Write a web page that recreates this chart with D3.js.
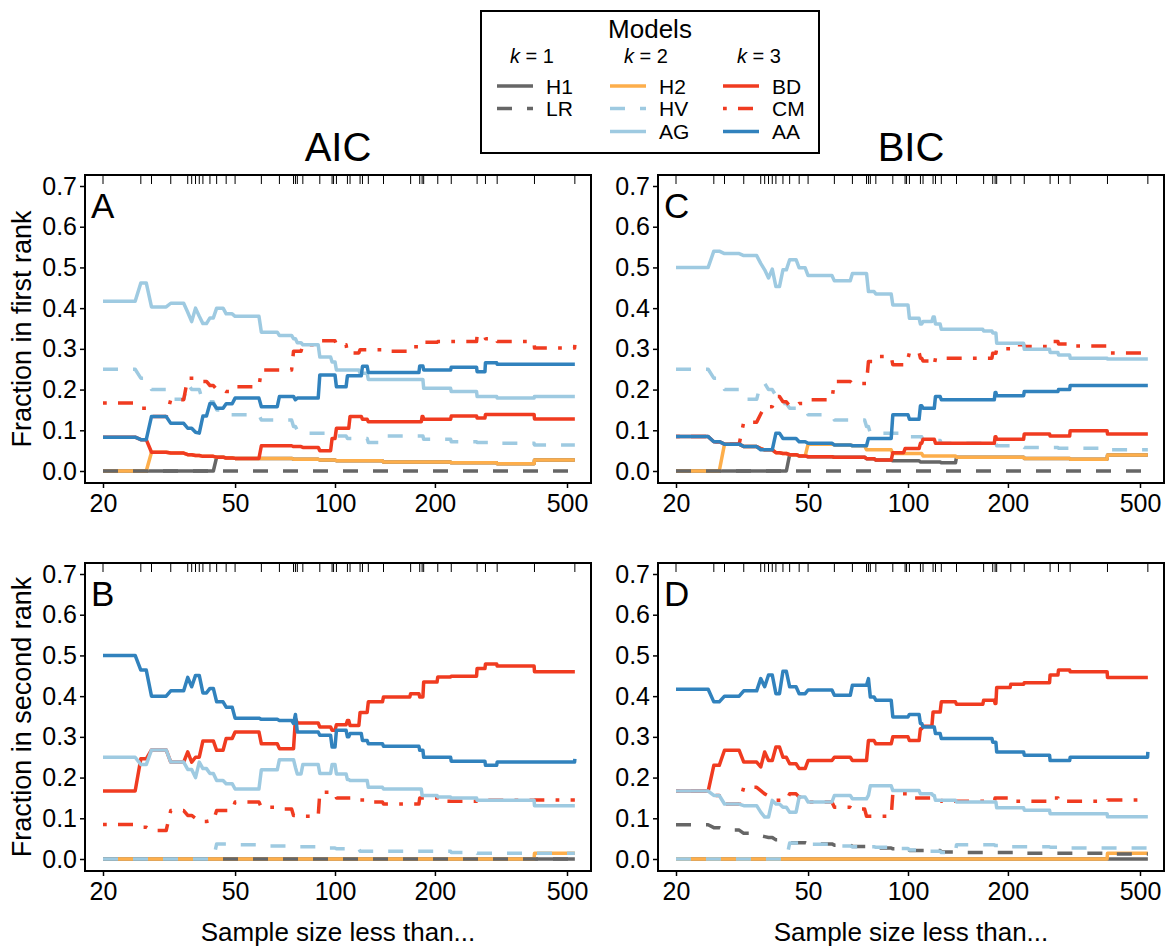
<!DOCTYPE html>
<html>
<head>
<meta charset="utf-8">
<script src="https://cdn.jsdelivr.net/npm/d3@7"></script>
<style>
  body { margin: 0; background: #fff; }
</style>
</head>
<body>
<div id="chart"></div>
<script>
// sample sizes in the data set (rug along the top of each panel)
var sampleSizes = [20, 26, 28, 32, 36, 37, 38, 39, 40, 42, 44, 47, 50, 60, 68, 75, 76, 77, 80, 90,
  98, 99, 101, 109, 111, 119, 121, 126, 140, 169, 180, 183, 185, 204, 224, 268, 284, 308, 399, 528];
var xTicks = [20, 50, 100, 200, 500];
var yTicks = [0, 0.1, 0.2, 0.3, 0.4, 0.5, 0.6, 0.7];

// each series: [sample size, fraction from that size on]
var aicFirst = {
  H1: [[20,0],[44,0.034],[47,0.032],[50,0.031],[75,0.029],[90,0.027],[101,0.025],[140,0.022],[224,0.02],[308,0.018],[399,0.027]],
  LR: [[20,0]],
  H2: [[20,0],[28,0.046],[32,0.044],[36,0.04],[38,0.038],[40,0.036],[44,0.034],[47,0.032],[50,0.031],[75,0.029],[90,0.027],[101,0.025],[140,0.022],[224,0.02],[308,0.018],[399,0.027]],
  HV: [[20,0.25],[26,0.228],[28,0.2],[32,0.176],[36,0.215],[37,0.2],[40,0.17],[44,0.15],[47,0.138],[60,0.125],[75,0.109],[77,0.1],[80,0.093],[101,0.086],[109,0.08],[126,0.07],[140,0.086],[185,0.078],[224,0.072],[268,0.07],[308,0.068],[399,0.064]],
  AG: [[20,0.417],[26,0.462],[28,0.403],[32,0.412],[36,0.39],[37,0.367],[38,0.40],[39,0.38],[40,0.362],[42,0.376],[44,0.40],[47,0.386],[50,0.38],[60,0.341],[68,0.333],[75,0.325],[77,0.315],[80,0.31],[90,0.28],[98,0.268],[101,0.248],[119,0.24],[126,0.225],[185,0.203],[224,0.195],[268,0.183],[308,0.179],[399,0.183]],
  BD: [[20,0.083],[26,0.077],[28,0.046],[32,0.044],[36,0.04],[38,0.038],[40,0.036],[44,0.034],[47,0.032],[50,0.031],[60,0.062],[75,0.06],[80,0.058],[90,0.05],[98,0.08],[101,0.105],[111,0.134],[121,0.127],[126,0.121],[183,0.134],[185,0.127],[224,0.135],[268,0.13],[284,0.139],[399,0.128]],
  CM: [[20,0.167],[26,0.154],[28,0.134],[32,0.175],[36,0.228],[40,0.22],[42,0.21],[44,0.2],[47,0.195],[50,0.207],[60,0.248],[75,0.294],[80,0.31],[90,0.32],[101,0.31],[109,0.29],[119,0.298],[140,0.294],[169,0.305],[183,0.316],[204,0.318],[268,0.333],[284,0.325],[308,0.318],[399,0.302],[528,0.31]],
  AA: [[20,0.083],[26,0.077],[28,0.134],[32,0.117],[36,0.105],[38,0.095],[39,0.093],[40,0.135],[42,0.166],[44,0.154],[47,0.165],[50,0.179],[60,0.158],[68,0.183],[76,0.175],[77,0.179],[90,0.236],[101,0.207],[109,0.234],[121,0.257],[126,0.242],[180,0.258],[185,0.248],[224,0.255],[268,0.244],[284,0.266],[308,0.262]]
};

var aicSecond = {
  H1: [[20,0]],
  LR: [[20,0]],
  H2: [[20,0],[399,0.014]],
  HV: [[20,0],[44,0.037],[50,0.035],[60,0.032],[75,0.03],[90,0.027],[101,0.025],[119,0.019],[224,0.016],[268,0.014]],
  AG: [[20,0.25],[26,0.232],[28,0.268],[32,0.238],[36,0.22],[38,0.2],[39,0.238],[40,0.222],[42,0.21],[44,0.193],[47,0.185],[50,0.172],[60,0.219],[68,0.244],[76,0.225],[77,0.209],[80,0.232],[90,0.21],[98,0.232],[101,0.209],[109,0.195],[111,0.193],[126,0.176],[140,0.172],[183,0.156],[204,0.152],[224,0.15],[268,0.144],[399,0.131]],
  BD: [[20,0.167],[26,0.246],[28,0.268],[32,0.238],[36,0.263],[37,0.238],[38,0.25],[40,0.29],[44,0.267],[47,0.296],[50,0.312],[60,0.283],[68,0.271],[76,0.345],[77,0.334],[90,0.324],[98,0.316],[101,0.33],[109,0.34],[111,0.328],[119,0.36],[126,0.386],[140,0.398],[169,0.406],[180,0.398],[185,0.435],[204,0.447],[224,0.449],[268,0.468],[284,0.479],[308,0.474],[399,0.46]],
  CM: [[20,0.085],[26,0.078],[28,0.07],[32,0.119],[36,0.107],[38,0.1],[40,0.092],[42,0.094],[44,0.119],[50,0.14],[60,0.127],[68,0.123],[75,0.107],[80,0.105],[90,0.164],[101,0.15],[119,0.145],[126,0.14],[140,0.135],[180,0.15],[204,0.142],[268,0.144],[399,0.145]],
  AA: [[20,0.5],[26,0.464],[28,0.40],[32,0.413],[36,0.446],[37,0.423],[38,0.451],[40,0.408],[42,0.419],[44,0.386],[47,0.373],[50,0.346],[60,0.343],[68,0.34],[75,0.333],[76,0.355],[77,0.312],[90,0.304],[98,0.275],[101,0.316],[109,0.30],[111,0.308],[121,0.291],[126,0.283],[140,0.277],[180,0.267],[185,0.25],[224,0.24],[284,0.23],[308,0.238],[528,0.246]]
};

var bicFirst = {
  H1: [[20,0],[44,0.04],[47,0.037],[50,0.035],[60,0.034],[75,0.03],[80,0.027],[90,0.025],[109,0.022],[126,0.02],[140,0.034],[224,0.031],[308,0.029],[399,0.039]],
  LR: [[20,0]],
  H2: [[20,0],[28,0.066],[32,0.06],[36,0.055],[37,0.052],[40,0.045],[42,0.043],[44,0.04],[47,0.037],[50,0.066],[60,0.064],[68,0.062],[75,0.052],[90,0.043],[111,0.037],[140,0.034],[224,0.031],[308,0.029],[399,0.039]],
  HV: [[20,0.25],[26,0.228],[28,0.2],[32,0.176],[36,0.215],[38,0.2],[40,0.185],[42,0.166],[44,0.154],[50,0.138],[60,0.125],[75,0.109],[77,0.093],[101,0.084],[111,0.075],[126,0.068],[185,0.062],[204,0.06],[224,0.058],[284,0.056],[399,0.052]],
  AG: [[20,0.5],[26,0.54],[28,0.534],[32,0.529],[36,0.51],[37,0.494],[38,0.474],[39,0.496],[40,0.453],[42,0.494],[44,0.519],[47,0.499],[50,0.48],[60,0.467],[68,0.485],[76,0.441],[80,0.435],[90,0.408],[101,0.375],[109,0.361],[111,0.367],[119,0.378],[121,0.361],[126,0.348],[169,0.344],[180,0.339],[185,0.314],[224,0.299],[268,0.291],[284,0.285],[308,0.277],[399,0.275]],
  BD: [[20,0.0845],[26,0.072],[28,0.066],[32,0.06],[36,0.055],[37,0.052],[40,0.045],[42,0.043],[44,0.04],[47,0.037],[50,0.035],[60,0.034],[75,0.03],[80,0.027],[90,0.045],[98,0.055],[109,0.068],[111,0.078],[121,0.068],[183,0.084],[185,0.078],[224,0.091],[268,0.086],[308,0.099],[399,0.091]],
  CM: [[20,0.0845],[26,0.072],[28,0.066],[32,0.12],[36,0.14],[37,0.158],[40,0.183],[42,0.17],[44,0.16],[47,0.166],[50,0.175],[60,0.22],[68,0.215],[76,0.269],[80,0.281],[90,0.261],[99,0.277],[101,0.291],[109,0.277],[111,0.27],[119,0.261],[121,0.277],[180,0.289],[185,0.3],[204,0.31],[224,0.306],[268,0.318],[284,0.312],[308,0.307],[399,0.29]],
  AA: [[20,0.0845],[26,0.072],[28,0.066],[32,0.06],[36,0.052],[40,0.093],[42,0.08],[47,0.072],[50,0.068],[60,0.064],[68,0.062],[76,0.08],[90,0.138],[101,0.127],[109,0.16],[111,0.154],[121,0.183],[126,0.175],[183,0.193],[185,0.185],[224,0.195],[284,0.2],[308,0.21]]
};

var bicSecond = {
  H1: [[20,0]],
  LR: [[20,0.084],[26,0.077],[28,0.071],[32,0.063],[36,0.057],[37,0.055],[38,0.053],[40,0.047],[44,0.04],[50,0.037],[60,0.034],[68,0.031],[80,0.027],[90,0.025],[101,0.021],[126,0.017],[140,0.016],[224,0.014],[399,0.012]],
  H2: [[20,0],[399,0.014]],
  HV: [[20,0],[44,0.039],[50,0.036],[60,0.032],[68,0.03],[80,0.029],[90,0.026],[101,0.022],[111,0.019],[126,0.016],[140,0.035],[183,0.033],[204,0.03],[268,0.029],[308,0.027]],
  AG: [[20,0.167],[26,0.156],[28,0.135],[32,0.131],[36,0.115],[37,0.103],[39,0.144],[40,0.135],[42,0.127],[44,0.115],[47,0.152],[50,0.14],[60,0.156],[68,0.148],[76,0.156],[77,0.18],[90,0.168],[109,0.16],[119,0.156],[121,0.144],[140,0.14],[185,0.126],[224,0.12],[268,0.111],[399,0.104]],
  BD: [[20,0.167],[26,0.23],[28,0.267],[32,0.238],[36,0.226],[37,0.263],[38,0.242],[40,0.275],[42,0.25],[44,0.234],[47,0.222],[50,0.242],[60,0.25],[68,0.242],[76,0.291],[80,0.283],[90,0.30],[101,0.291],[109,0.32],[111,0.326],[119,0.361],[126,0.386],[140,0.38],[169,0.39],[183,0.382],[185,0.421],[204,0.429],[224,0.433],[268,0.452],[284,0.464],[308,0.46],[399,0.446]],
  CM: [[20,0.167],[26,0.156],[28,0.135],[32,0.176],[36,0.168],[37,0.16],[38,0.155],[39,0.15],[40,0.144],[44,0.16],[47,0.152],[50,0.14],[60,0.127],[68,0.123],[75,0.105],[90,0.16],[101,0.15],[126,0.142],[183,0.15],[204,0.142],[268,0.15],[284,0.142],[399,0.145]],
  AA: [[20,0.417],[26,0.386],[28,0.40],[32,0.413],[36,0.443],[37,0.423],[38,0.452],[40,0.406],[42,0.461],[44,0.423],[47,0.406],[50,0.415],[60,0.402],[68,0.427],[76,0.443],[77,0.398],[80,0.39],[90,0.349],[101,0.355],[109,0.333],[111,0.324],[121,0.308],[126,0.296],[180,0.287],[185,0.263],[224,0.255],[268,0.242],[308,0.25],[528,0.263]]
};

var legendColumns = [
  {k: "1", models: ["H1", "LR"]},
  {k: "2", models: ["H2", "HV", "AG"]},
  {k: "3", models: ["BD", "CM", "AA"]}
];

var modelStyle = {
  H1: {color: "#666666", dash: null},
  LR: {color: "#666666", dash: "15,15"},
  H2: {color: "#FDAE4B", dash: null},
  HV: {color: "#9ECAE1", dash: "15,15"},
  AG: {color: "#9ECAE1", dash: null},
  BD: {color: "#F03B20", dash: null},
  CM: {color: "#F03B20", dash: "3.75,11.25,15,11.25"},
  AA: {color: "#3182BD", dash: null}
};
var drawOrder = ["H1", "H2", "LR", "HV", "BD", "CM", "AG", "AA"];

var font = "'Liberation Sans', Arial, Helvetica, sans-serif";
var lineW = 3.5;
var maxSize = d3.max(sampleSizes);

var svg = d3.select("#chart").append("svg")
  .attr("width", 1166)
  .attr("height", 949)
  .style("font-family", font);

var panelW = 506, panelH = 308;
var x = d3.scaleLog().domain([20, 500]).range([18, 482]);
var y = d3.scaleLinear().domain([0, 0.7]).range([296, 11]);
var line = d3.line()
  .x(function(d) { return x(d[0]); })
  .y(function(d) { return y(d[1]); });

// value holds from its size on; riser drawn from the previous whole sample size
function stepPoints(s) {
  var pts = [];
  s.forEach(function(d, i) {
    if (i > 0) pts.push([d[0] - 1, s[i - 1][1]]);
    pts.push(d);
  });
  var last = s[s.length - 1];
  if (last[0] < maxSize) pts.push([maxSize, last[1]]);
  return pts;
}

var panels = [
  {letter: "A", data: aicFirst, x0: 85, y0: 175},
  {letter: "B", data: aicSecond, x0: 85, y0: 563},
  {letter: "C", data: bicFirst, x0: 658, y0: 175},
  {letter: "D", data: bicSecond, x0: 658, y0: 563}
];

panels.forEach(function(p) {
  var g = svg.append("g")
    .attr("transform", "translate(" + p.x0 + "," + p.y0 + ")");

  drawOrder.forEach(function(m) {
    var st = modelStyle[m];
    g.append("path")
      .attr("d", line(stepPoints(p.data[m])))
      .attr("fill", "none")
      .attr("stroke", st.color)
      .attr("stroke-width", lineW)
      .attr("stroke-linejoin", "round")
      .attr("stroke-dasharray", st.dash);
  });

  // rug
  g.selectAll("line.rug")
    .data(sampleSizes)
    .enter().append("line")
      .attr("class", "rug")
      .attr("x1", function(d) { return x(d); })
      .attr("x2", function(d) { return x(d); })
      .attr("y1", 0)
      .attr("y2", 9)
      .attr("stroke", "#000")
      .attr("stroke-width", 1);

  var ya = g.append("g")
    .call(d3.axisLeft(y).tickValues(yTicks).tickFormat(d3.format(".1f")).tickSize(5).tickPadding(3));
  var xa = g.append("g")
    .attr("transform", "translate(0," + panelH + ")")
    .call(d3.axisBottom(x).tickValues(xTicks).tickFormat(d3.format("d")).tickSize(5).tickPadding(6));
  [ya, xa].forEach(function(a) {
    a.attr("font-family", font).attr("font-size", 25);
    a.select(".domain").remove();
    a.selectAll(".tick line").attr("stroke", "#000").attr("stroke-width", 1.5);
    a.selectAll(".tick text").attr("fill", "#000");
  });

  g.append("rect")
    .attr("width", panelW)
    .attr("height", panelH)
    .attr("fill", "none")
    .attr("stroke", "#000")
    .attr("stroke-width", 2);

  g.append("text")
    .attr("x", 6)
    .attr("y", 43)
    .attr("font-size", 35)
    .text(p.letter);
});

// column titles
[["AIC", 338], ["BIC", 911]].forEach(function(t) {
  svg.append("text")
    .attr("x", t[1]).attr("y", 161)
    .attr("text-anchor", "middle")
    .attr("font-size", 40)
    .text(t[0]);
  svg.append("text")
    .attr("x", t[1]).attr("y", 941)
    .attr("text-anchor", "middle")
    .attr("font-size", 26)
    .text("Sample size less than...");
});

[["Fraction in first rank", 329], ["Fraction in second rank", 717]].forEach(function(t) {
  svg.append("text")
    .attr("transform", "translate(31," + t[1] + ") rotate(-90)")
    .attr("text-anchor", "middle")
    .attr("font-size", 27)
    .text(t[0]);
});

// legend
var lg = svg.append("g");
lg.append("rect")
  .attr("x", 481).attr("y", 11)
  .attr("width", 338).attr("height", 142)
  .attr("fill", "#fff")
  .attr("stroke", "#000")
  .attr("stroke-width", 2);
lg.append("text")
  .attr("x", 650).attr("y", 38)
  .attr("text-anchor", "middle")
  .attr("font-size", 26)
  .text("Models");

var colX = [497, 610, 723], headX = [532, 646, 759], rowY = [86, 108.5, 131.5];
legendColumns.forEach(function(c, ci) {
  var h = lg.append("text")
    .attr("x", headX[ci]).attr("y", 63)
    .attr("text-anchor", "middle")
    .attr("font-size", 20);
  h.append("tspan").attr("font-style", "italic").text("k");
  h.append("tspan").text(" = " + c.k);

  c.models.forEach(function(m, ri) {
    var st = modelStyle[m];
    lg.append("line")
      .attr("x1", colX[ci]).attr("x2", colX[ci] + 36)
      .attr("y1", rowY[ri]).attr("y2", rowY[ri])
      .attr("stroke", st.color)
      .attr("stroke-width", lineW)
      .attr("stroke-dasharray", st.dash);
    lg.append("text")
      .attr("x", colX[ci] + 49).attr("y", rowY[ri] + 7.5)
      .attr("font-size", 21)
      .text(m);
  });
});
</script>
</body>
</html>
